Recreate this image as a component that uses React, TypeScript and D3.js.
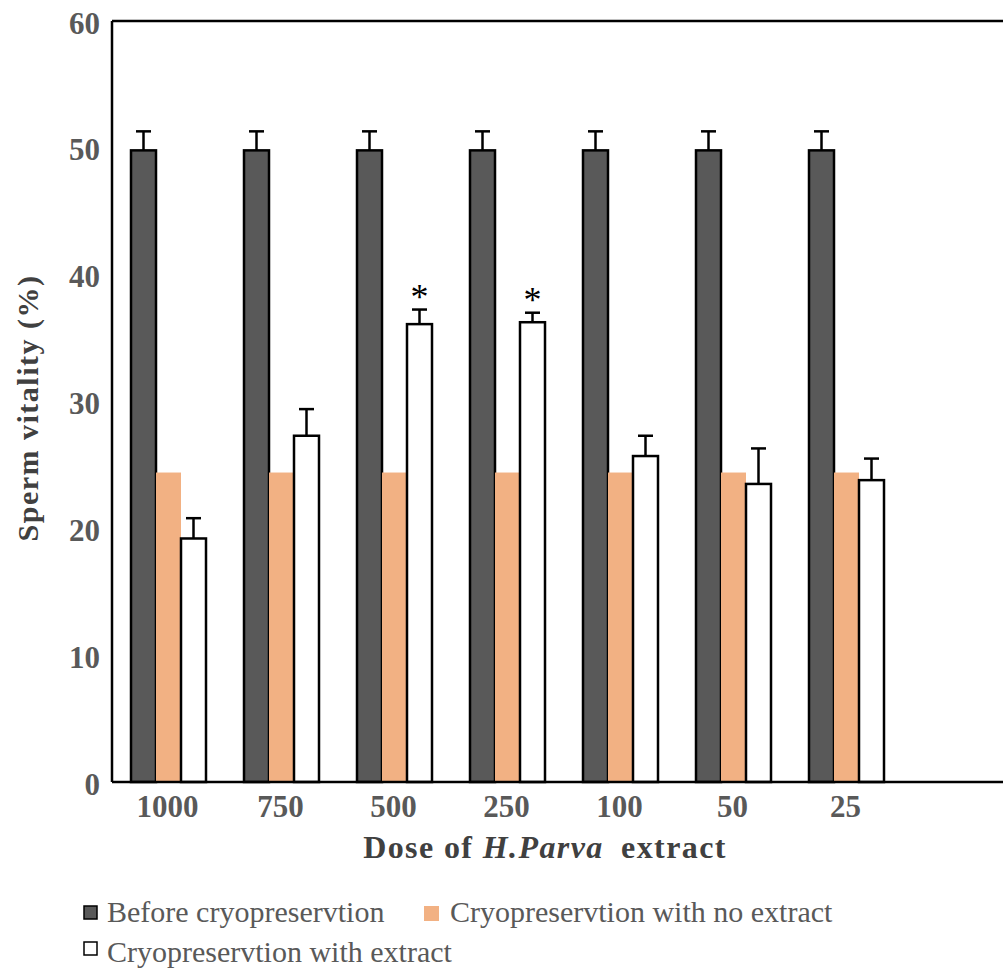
import React from "react";
import * as d3 from "d3";

// dose groups (x axis)
const doses = ["1000", "750", "500", "250", "100", "50", "25"];
const seriesKeys = ["before", "noExtract", "withExtract"];
const seriesNames = [
  "Before cryopreservtion",
  "Cryopreservtion with no extract",
  "Cryopreservtion with extract",
];

// values (%)
const beforeVals = [49.8, 49.8, 49.8, 49.8, 49.8, 49.8, 49.8];
const beforeErr = [1.5, 1.5, 1.5, 1.5, 1.5, 1.5, 1.5];
const noExtractVals = [24.4, 24.4, 24.4, 24.4, 24.4, 24.4, 24.4];
const withExtractVals = [19.2, 27.3, 36.1, 36.25, 25.7, 23.5, 23.8];
const withExtractErr = [1.6, 2.1, 1.15, 0.75, 1.6, 2.8, 1.7];
const significant = [false, false, true, true, false, false, false];

const yTicks = [0, 10, 20, 30, 40, 50, 60];

export default function App() {
  const width = 1003, height = 974;
  const marginLeft = 112, marginTop = 21, bottom = 782;
  const step = 113;

  const x = d3.scaleBand<string>()
    .domain(doses)
    .range([marginLeft, marginLeft + step * doses.length])
    .padding(0);

  const xSub = d3.scaleBand<string>()
    .domain(seriesKeys)
    .range([0, x.bandwidth()])
    .paddingInner(0)
    .paddingOuter(0.76);

  const y = d3.scaleLinear().domain([0, 60]).range([bottom, marginTop]);

  const fills: Record<string, string> = {
    before: "#595959",
    noExtract: "#f2b183",
    withExtract: "#ffffff",
  };

  const font = "'Liberation Serif', 'Times New Roman', serif";
  const bw = xSub.bandwidth();
  const capW = 15;

  const errBar = (cx: number, v: number, e: number, k: string) => (
    <g key={k} stroke="#000" strokeWidth={2.5}>
      <line x1={cx} x2={cx} y1={y(v)} y2={y(v + e)} />
      <line x1={cx - capW / 2} x2={cx + capW / 2} y1={y(v + e)} y2={y(v + e)} />
    </g>
  );

  return (
    <svg
      width={width}
      height={height}
      style={{ position: "absolute", left: 0, top: 0, background: "#fff" }}
      fontFamily={font}
    >
      {/* bars */}
      {doses.map((d, i) => {
        const x0 = x(d)!;
        const bx = x0 + xSub("before")!;
        const ox = x0 + xSub("noExtract")!;
        const wx = x0 + xSub("withExtract")!;
        return (
          <g key={d}>
            <rect x={bx} y={y(beforeVals[i])} width={bw} height={bottom - y(beforeVals[i])}
              fill={fills.before} stroke="#000" strokeWidth={2.5} />
            <rect x={ox} y={y(noExtractVals[i])} width={bw} height={bottom - y(noExtractVals[i])}
              fill={fills.noExtract} />
            <rect x={wx} y={y(withExtractVals[i])} width={bw} height={bottom - y(withExtractVals[i])}
              fill={fills.withExtract} stroke="#000" strokeWidth={2.5} />
            {errBar(bx + bw / 2, beforeVals[i], beforeErr[i], "eb")}
            {errBar(wx + bw / 2, withExtractVals[i], withExtractErr[i], "ew")}
            {significant[i] && (
              <text x={wx + bw / 2} y={y(withExtractVals[i] + withExtractErr[i]) - 1}
                textAnchor="middle" fontSize={36} fill="#000">*</text>
            )}
          </g>
        );
      })}

      {/* frame */}
      <line x1={marginLeft} x2={marginLeft} y1={marginTop} y2={bottom} stroke="#000" strokeWidth={2.5} />
      <line x1={marginLeft} x2={width} y1={marginTop} y2={marginTop} stroke="#000" strokeWidth={2.5} />
      <line x1={marginLeft} x2={width} y1={bottom} y2={bottom} stroke="#000" strokeWidth={2.5} />

      {/* y ticks */}
      {yTicks.map(t => (
        <text key={t} x={100} y={y(t) + 2} textAnchor="end" dominantBaseline="central"
          fontSize={31} fontWeight="bold" fill="#595959">{t}</text>
      ))}

      {/* x ticks */}
      {doses.map(d => (
        <text key={d} x={x(d)! + x.bandwidth() / 2 - 1} y={817} textAnchor="middle"
          fontSize={31} fontWeight="bold" fill="#595959">{d}</text>
      ))}

      {/* axis titles */}
      <text transform={`translate(38,408) rotate(-90)`} textAnchor="middle"
        fontSize={30} letterSpacing={1.5} fontWeight="bold" fill="#404040">Sperm vitality (%)</text>
      <text x={545} y={858} textAnchor="middle" fontSize={32} letterSpacing={1.4}
        fontWeight="bold" fill="#404040">
        Dose of <tspan fontStyle="italic">H.Parva</tspan><tspan dx={8}> extract</tspan>
      </text>

      {/* legend */}
      <g fontSize={30} fill="#595959">
        <rect x={84} y={906} width={13} height={13} fill={fills.before} stroke="#000" strokeWidth={1.5} />
        <text x={107} y={922}>{seriesNames[0]}</text>
        <rect x={424} y={906} width={15} height={15} fill={fills.noExtract} />
        <text x={450} y={922}>{seriesNames[1]}</text>
        <rect x={84} y={942} width={13} height={13} fill="#fff" stroke="#000" strokeWidth={1.5} />
        <text x={107} y={962}>{seriesNames[2]}</text>
      </g>
    </svg>
  );
}
